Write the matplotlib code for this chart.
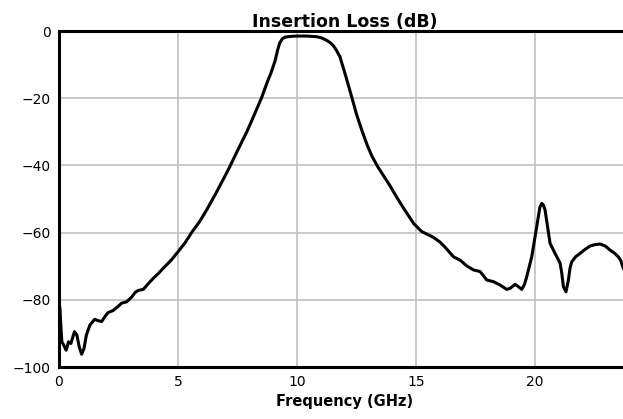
import numpy as np
import matplotlib
matplotlib.use("Agg")
import matplotlib.pyplot as plt

# 频率 (GHz) 与插入损耗 (dB)
freq = [0.04, 0.08, 0.12, 0.2, 0.3, 0.4, 0.5, 0.65, 0.75, 0.85, 0.95, 1.05, 1.15,
        1.3, 1.5, 1.64, 1.79, 1.93, 2.06, 2.27, 2.48, 2.63, 2.84, 3.05, 3.2, 3.33,
        3.54, 3.75, 3.96, 4.17, 4.38, 4.7, 5.0, 5.3, 5.57, 5.9, 6.2, 6.6, 7.0, 7.18,
        7.5, 7.89, 8.2, 8.52, 8.75, 8.9, 9.08, 9.18, 9.27, 9.38, 9.5, 9.75, 10.0,
        10.4, 10.83, 11.05, 11.25, 11.4, 11.53, 11.65, 11.8, 12.05, 12.3, 12.5,
        12.72, 12.95, 13.15, 13.4, 13.9, 14.2, 14.5, 14.9, 15.24, 15.5, 15.73,
        16.0, 16.2, 16.4, 16.57, 16.85, 17.13, 17.41, 17.69, 17.85, 17.97, 18.25,
        18.53, 18.81, 18.95, 19.16, 19.3, 19.44, 19.55, 19.65, 19.86, 20.07, 20.2,
        20.28, 20.35, 20.42, 20.52, 20.63, 20.84, 21.05, 21.12, 21.19, 21.3, 21.4,
        21.47, 21.54, 21.7, 21.89, 22.1, 22.31, 22.5, 22.73, 22.95, 23.15, 23.35,
        23.5, 23.6, 23.68, 23.8]
loss = [-82.5, -88, -92.5, -93.5, -95, -92.5, -93, -89.5, -90.5, -94, -96.2, -94.5,
        -90.5, -87.5, -85.8, -86.2, -86.5, -85, -83.8, -83.2, -82, -81, -80.6, -79.2,
        -77.8, -77.2, -76.9, -75.2, -73.6, -72.2, -70.6, -68.3, -65.7, -63, -60,
        -56.8, -53.3, -48.2, -42.8, -40.3, -35.6, -30, -25, -19.7, -15.2, -12.6,
        -8.8, -5.8, -3.6, -2.3, -1.8, -1.6, -1.5, -1.5, -1.7, -2.1, -2.8, -3.5,
        -4.4, -5.7, -7.6, -13.5, -19.7, -24.8, -29.5, -34, -37.3, -40.5, -46,
        -49.6, -53, -57.3, -59.7, -60.6, -61.4, -62.8, -64.2, -65.8, -67.2, -68.2,
        -69.9, -71.1, -71.6, -73, -74.1, -74.6, -75.6, -76.9, -76.6, -75.4, -76.1,
        -76.9, -75.5, -73.1, -67.2, -58.2, -52.5, -51.3, -51.8, -53.3, -58, -63.2,
        -66.2, -69.1, -72, -76.1, -77.6, -74.1, -70.5, -68.7, -67.2, -66.2, -65,
        -64, -63.6, -63.4, -64, -65.2, -66.2, -67.2, -68.3, -70.1, -72]

fig = plt.figure(figsize=(6.23, 4.19), dpi=100)
ax = fig.add_axes([0.0947, 0.1241, 0.917, 0.8019])
ax.plot(freq, loss, color='black', lw=2.2)
ax.set_xlim(0, 24)
ax.set_ylim(-100, 0)
ax.set_xticks([0, 5, 10, 15, 20])
ax.set_yticks([-100, -80, -60, -40, -20, 0])
ax.grid(True, color='#c0c0c0', lw=1.2)
ax.set_axisbelow(True)
ax.tick_params(length=0, labelsize=10, pad=6)
for s in ax.spines.values():
    s.set_linewidth(2.2)
ax.set_title("Insertion Loss (dB)", fontsize=12.5, fontweight='bold', pad=3)
ax.set_xlabel("Frequency (GHz)", fontsize=10.5, fontweight='bold', labelpad=3)
fig.savefig("out.png", dpi=100)
